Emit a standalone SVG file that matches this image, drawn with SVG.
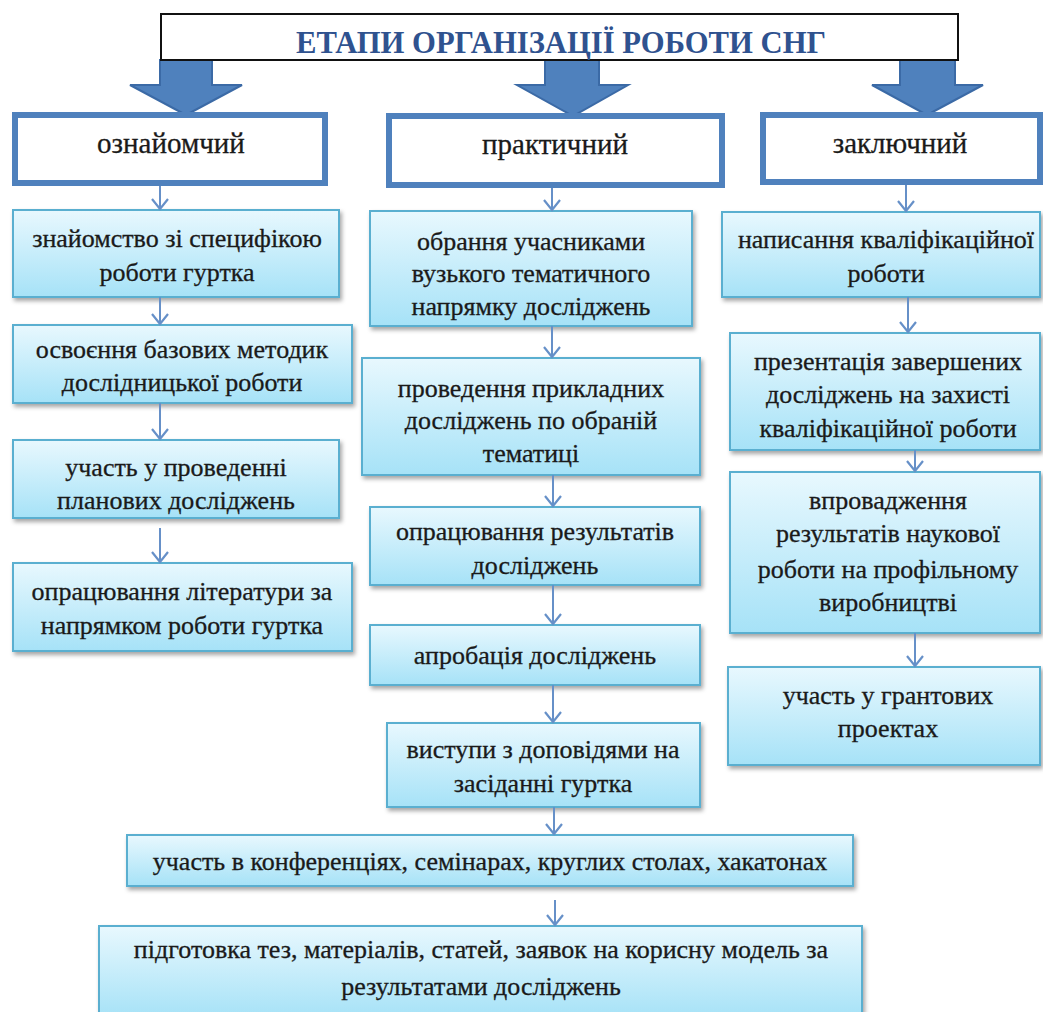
<svg xmlns="http://www.w3.org/2000/svg" width="1043" height="1012" viewBox="0 0 1043 1012">
<style>
.t{font-family:'Liberation Serif','DejaVu Serif','Times New Roman',serif;font-size:26px;fill:#1a1a1a;stroke:#1a1a1a;stroke-width:0.3;text-anchor:middle}
.st{font-family:'Liberation Serif','DejaVu Serif','Times New Roman',serif;font-size:29px;fill:#1a1a1a;stroke:#1a1a1a;stroke-width:0.3;text-anchor:middle}
.title{font-family:'Liberation Serif','DejaVu Serif','Times New Roman',serif;font-size:32px;font-weight:bold;fill:#2F528F;text-anchor:middle}
.box{fill:url(#g);stroke:#5AAFD0;stroke-width:2;filter:url(#sh)}
.stage{fill:#fff;stroke:#4F81BD;stroke-width:6}
.big{fill:#4F81BD;stroke:#3B6AA6;stroke-width:2}
.c{stroke:#6690C8;stroke-width:2;fill:none;marker-end:url(#ah)}
</style>
<defs>
<linearGradient id="g" x1="0" y1="0" x2="0" y2="1">
<stop offset="0" stop-color="#E8F8FE"/>
<stop offset="1" stop-color="#A6E2F7"/>
</linearGradient>
<filter id="sh" x="-10%" y="-20%" width="120%" height="150%">
<feDropShadow dx="2" dy="3" stdDeviation="2" flood-color="#000" flood-opacity="0.35"/>
</filter>
<marker id="ah" markerUnits="userSpaceOnUse" markerWidth="22" markerHeight="22" refX="20" refY="11" orient="auto" viewBox="0 0 22 22">
<path d="M10,3 L20,11 L10,19" fill="none" stroke="#6690C8" stroke-width="2.2"/>
</marker>
</defs>
<rect width="1043" height="1012" fill="#fff"/>

<g id="bigArrows">
<path class="big" d="M160,60 H212 V85 H242 L186,115 L130,85 H160 Z"/>
<path class="big" d="M545,60 H599 V85 H628 L573,116 L517,85 H545 Z"/>
<path class="big" d="M900,60 H955 V85 H983 L927,115 L872,85 H900 Z"/>
</g>

<g id="title">
<rect x="161" y="14" width="797" height="46" fill="#fff" stroke="#111" stroke-width="2"/>
<text class="title" x="561" y="53" textLength="530" lengthAdjust="spacingAndGlyphs">ЕТАПИ ОРГАНІЗАЦІЇ РОБОТИ СНГ</text>
</g>

<g id="stage1"><rect class="stage" x="15" y="115" width="310" height="68"/><text class="st" x="171" y="153">ознайомчий</text></g>
<g id="stage2"><rect class="stage" x="389" y="116" width="333" height="69"/><text class="st" x="555" y="154">практичний</text></g>
<g id="stage3"><rect class="stage" x="763" y="115" width="277" height="67"/><text class="st" x="900" y="153">заключний</text></g>

<g id="L1"><rect class="box" x="13" y="210" width="326" height="87"/><text class="t" x="177" y="247">знайомство зі специфікою</text><text class="t" x="177" y="281">роботи гуртка</text></g>
<g id="L2"><rect class="box" x="13" y="325" width="339" height="78"/><text class="t" x="182" y="358">освоєння базових методик</text><text class="t" x="182" y="391">дослідницької роботи</text></g>
<g id="L3"><rect class="box" x="13" y="440" width="326" height="78"/><text class="t" x="176" y="476">участь у проведенні</text><text class="t" x="176" y="509">планових досліджень</text></g>
<g id="L4"><rect class="box" x="13" y="563" width="339" height="88"/><text class="t" x="182" y="600">опрацювання літератури за</text><text class="t" x="182" y="634">напрямком роботи гуртка</text></g>

<g id="M1"><rect class="box" x="370" y="211" width="322" height="115"/><text class="t" x="531" y="250">обрання учасниками</text><text class="t" x="531" y="282">вузького тематичного</text><text class="t" x="531" y="315">напрямку досліджень</text></g>
<g id="M2"><rect class="box" x="362" y="358" width="338" height="117"/><text class="t" x="531" y="397">проведення прикладних</text><text class="t" x="531" y="429">досліджень по обраній</text><text class="t" x="531" y="462">тематиці</text></g>
<g id="M3"><rect class="box" x="370" y="507" width="330" height="78"/><text class="t" x="535" y="540">опрацювання результатів</text><text class="t" x="535" y="574">досліджень</text></g>
<g id="M4"><rect class="box" x="370" y="625" width="330" height="60"/><text class="t" x="535" y="664">апробація досліджень</text></g>
<g id="M5"><rect class="box" x="387" y="723" width="313" height="84"/><text class="t" x="543" y="758">виступи з доповідями на</text><text class="t" x="543" y="792">засіданні гуртка</text></g>

<g id="R1"><rect class="box" x="722" y="212" width="318" height="85"/><text class="t" x="886" y="248">написання кваліфікаційної</text><text class="t" x="886" y="282">роботи</text></g>
<g id="R2"><rect class="box" x="730" y="333" width="310" height="117"/><text class="t" x="888" y="370">презентація завершених</text><text class="t" x="888" y="403">досліджень на захисті</text><text class="t" x="888" y="437">кваліфікаційної роботи</text></g>
<g id="R3"><rect class="box" x="730" y="472" width="310" height="161"/><text class="t" x="888" y="509">впровадження</text><text class="t" x="888" y="542">результатів наукової</text><text class="t" x="888" y="578">роботи на профільному</text><text class="t" x="888" y="611">виробництві</text></g>
<g id="R4"><rect class="box" x="728" y="667" width="312" height="98"/><text class="t" x="888" y="704">участь у грантових</text><text class="t" x="888" y="737">проектах</text></g>

<g id="B1"><rect class="box" x="127" y="835" width="726" height="51"/><text class="t" x="490" y="870">участь в конференціях, семінарах, круглих столах, хакатонах</text></g>
<g id="B2"><rect class="box" x="99" y="926" width="763" height="92"/><text class="t" x="481" y="958">підготовка тез, матеріалів, статей, заявок на корисну модель за</text><text class="t" x="481" y="995">результатами досліджень</text></g>

<g id="connectors">
<line class="c" x1="160" y1="186" x2="160" y2="209"/>
<line class="c" x1="160" y1="297" x2="160" y2="324"/>
<line class="c" x1="160" y1="403" x2="160" y2="439"/>
<line class="c" x1="160" y1="528" x2="160" y2="562"/>
<line class="c" x1="552" y1="188" x2="552" y2="210"/>
<line class="c" x1="552" y1="326" x2="552" y2="357"/>
<line class="c" x1="553" y1="475" x2="553" y2="506"/>
<line class="c" x1="553" y1="585" x2="553" y2="624"/>
<line class="c" x1="553" y1="685" x2="553" y2="722"/>
<line class="c" x1="554" y1="807" x2="554" y2="834"/>
<line class="c" x1="555" y1="900" x2="555" y2="925"/>
<line class="c" x1="906" y1="185" x2="906" y2="211"/>
<line class="c" x1="908" y1="297" x2="908" y2="332"/>
<line class="c" x1="915" y1="450" x2="915" y2="471"/>
<line class="c" x1="915" y1="633" x2="915" y2="666"/>
</g>
</svg>
